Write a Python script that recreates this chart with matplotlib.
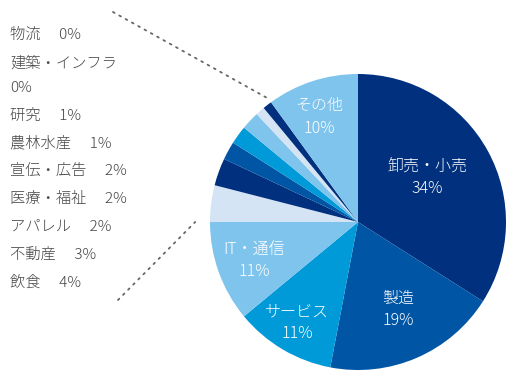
import matplotlib
matplotlib.use("Agg")
import matplotlib.pyplot as plt
import numpy as np

plt.rcParams['font.family'] = ['Noto Sans CJK JP', 'DejaVu Sans']

# slices clockwise from 12 o'clock
industries = ['卸売・小売', '製造', 'サービス', 'IT・通信', '飲食', '不動産', 'アパレル',
              '医療・福祉', '宣伝・広告', '農林水産', '研究', '建築・インフラ', '物流', 'その他']
shares = [34, 19, 11, 11, 4, 3, 2, 2, 2, 1, 1, 0, 0, 10]
palette = ['#00307e', '#0055a5', '#009ad9', '#7fc4ec', '#d4e4f4']
colors = [palette[i % 5] for i in range(len(shares))]

# labels written inside the big slices (name, x, y in pie units)
inner_labels = {'卸売・小売': (0.47, 0.30), '製造': (0.27, -0.59), 'サービス': (-0.41, -0.68),
                'IT・通信': (-0.70, -0.26), 'その他': (-0.26, 0.71)}
# the small ones go in a list on the left (one entry per text line)
side_lines = ['物流\u3000 0%', '建築・インフラ', '0%', '研究\u3000 1%', '農林水産\u3000 1%',
              '宣伝・広告\u3000 2%', '医療・福祉\u3000 2%', 'アパレル\u3000 2%',
              '不動産\u3000 3%', '飲食\u3000 4%']
side_y = [35, 63, 88, 116, 143, 171, 199, 227, 255, 283]

fig = plt.figure(figsize=(5.22, 3.87), dpi=100)
ax = fig.add_axes([210 / 522, 17 / 387, 296 / 522, 296 / 387])
wedges, _ = ax.pie(shares, colors=colors, startangle=90, counterclock=False,
                   wedgeprops=dict(linewidth=0))
ax.set_xlim(-1, 1)
ax.set_ylim(-1, 1)
ax.set_aspect('equal')

for name, (x, y) in inner_labels.items():
    pct = shares[industries.index(name)]
    ax.text(x, y + 0.075, name, color='white', fontsize=11.5, ha='center', va='center',
            fontweight='light')
    ax.text(x, y - 0.075, f'{pct}%', color='white', fontsize=11.5, ha='center', va='center',
            fontweight='light')

for lab, yy in zip(side_lines, side_y):
    fig.text(10 / 522, 1 - yy / 387, lab, fontsize=11, color='#444444', ha='left', va='center',
             fontweight='light')

# dotted leader lines from the list to the group of small slices
top_angle = np.deg2rad(wedges[industries.index('研究')].theta1)
low_angle = np.deg2rad(wedges[industries.index('飲食')].theta2)
for ang, r, (px, py) in [(top_angle, 1.03, (113, 375)), (low_angle, 1.1, (118, 87))]:
    ax.annotate('', xy=(r * np.cos(ang), r * np.sin(ang)), xycoords='data',
                xytext=(px, py), textcoords='figure pixels', annotation_clip=False,
                arrowprops=dict(arrowstyle='-', color='#666666', linestyle=(0, (1, 3)),
                                linewidth=1.3, shrinkA=0, shrinkB=0))

fig.savefig('out.png', dpi=100)
